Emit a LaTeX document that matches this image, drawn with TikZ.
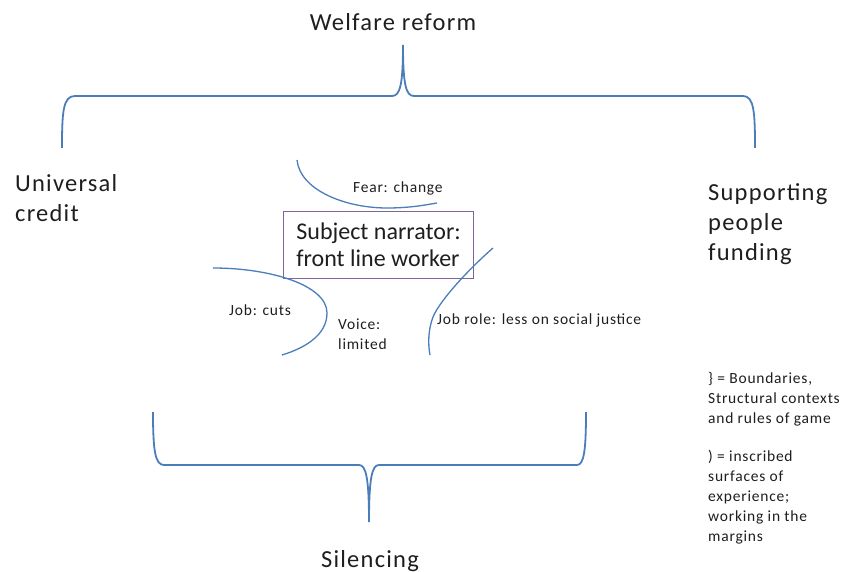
\documentclass[tikz,border=0pt]{standalone}
\usepackage{fontspec}
\setmainfont{Carlito}[LetterSpace=5]
\newfontfamily\boxfont{Carlito}
\usetikzlibrary{positioning}
\definecolor{bracecol}{RGB}{74,126,187}
\definecolor{boxcol}{RGB}{128,100,162}
\definecolor{txtcol}{RGB}{30,30,30}
\tikzset{
  bigtext/.style={inner sep=0pt, text=txtcol, align=left, font=\fontsize{24.5}{30}\selectfont},
  smalltext/.style={inner sep=0pt, text=txtcol, align=left, font=\fontsize{15.5}{20}\selectfont},
  brace/.style={draw=bracecol, line width=1.8pt},
  surface/.style={draw=bracecol, line width=1.3pt},
  narratorbox/.style={draw=boxcol, line width=1.2pt, minimum width=190pt, minimum height=67pt, align=left, inner sep=0pt, text=txtcol, font=\boxfont\fontsize{24}{27}\selectfont}
}

\begin{document}
\begin{tikzpicture}[x=1pt, y=-1pt]
	\useasboundingbox (0,0) rectangle (846,572);

	\node[bigtext, anchor=base] (welfare) at (393,31) {Welfare reform};
	\node[bigtext, anchor=base west] (universal) at (15,222) {Universal\\credit};
	\node[bigtext, anchor=base west] (supporting) at (708,261) {Supporting\\people\\funding};
	\node[narratorbox, anchor=north west] (narrator) at (283,211) {Subject narrator:\\front line worker};
	\node[bigtext, anchor=base] (silencing) at (370,567) {Silencing};

	\node[smalltext, anchor=base west] (fear) at (353,193) {Fear: change};
	\node[smalltext, anchor=base west] (jobcuts) at (229,315) {Job: cuts};
	\node[smalltext, anchor=base west] (voice) at (338,349) {Voice:\\limited};
	\node[smalltext, anchor=base west] (jobrole) at (437,324) {Job role: less on social justice};

	\node[smalltext, anchor=base west] (legendbrace) at (708,423) {\} = Boundaries,\\Structural contexts\\and rules of game};
	\node[smalltext, below=24pt of legendbrace.south west, anchor=north west] (legendarc) {) = inscribed\\surfaces of\\experience;\\working in the\\margins};

	% boundaries
	\draw[brace] (62,148) .. controls (62,112) and (63,96) .. (75,96) -- (392,96)
		.. controls (400,96) and (403,85) .. (403,45)
		.. controls (403,85) and (406,96) .. (414,96) -- (743,96)
		.. controls (754,96) and (755,112) .. (755,148);
	\draw[brace] (153,412) .. controls (153,450) and (155,465) .. (164,465) -- (359,465)
		.. controls (366,465) and (369,478) .. (369,522)
		.. controls (369,478) and (372,465) .. (379,465) -- (577,465)
		.. controls (584,465) and (586,450) .. (586,412);

	% inscribed surfaces
	\draw[surface] (297,160) .. controls (300,190) and (345,208) .. (387,208) .. controls (410,208) and (425,205) .. (437,203);
	\draw[surface] (213,268) .. controls (270,268) and (327,285) .. (327,313) .. controls (327,335) and (305,348) .. (282,355);
	\draw[surface] (493,248) .. controls (470,268) and (440,300) .. (433,317) .. controls (428,330) and (428,345) .. (430,355);
\end{tikzpicture}
\end{document}
